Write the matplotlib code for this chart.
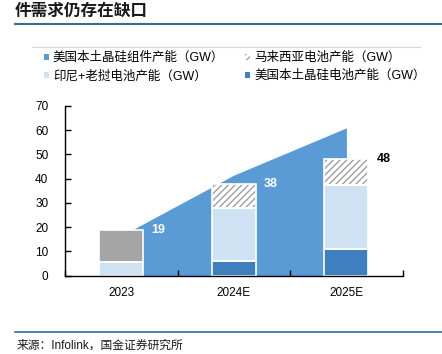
import matplotlib
matplotlib.use("Agg")
import matplotlib.pyplot as plt
from matplotlib.patches import Patch
from matplotlib.lines import Line2D

plt.rcParams['font.family'] = ['Liberation Sans', 'Noto Sans CJK SC', 'DejaVu Sans']
plt.rcParams['hatch.linewidth'] = 1.0

# Données
annees = ["2023", "2024E", "2025E"]
modules_us = [16.5, 41.5, 61]          # aire : capacité modules US
cellules_us = [0, 6, 11]
cellules_asean = [5.5, 22, 26.5]       # Indonésie + Laos
cellules_malaisie = [13.5, 10, 10.5]
totaux = [19, 38, 48]
couleurs_totaux = ["white", "white", "black"]

noms_series = ["美国本土晶硅组件产能（GW）", "印尼+老挝电池产能（GW）",
               "马来西亚电池产能（GW）", "美国本土晶硅电池产能（GW）"]

c_aire = "#5B9BD5"
c_us = "#3F7EBF"
c_asean = "#CFE2F3"
c_gris = "#A5A5A5"
c_hachure = "#A0A0A0"

W, H = 442, 354
fig = plt.figure(figsize=(W / 100, H / 100), dpi=100)
ax = fig.add_axes([65 / W, 1 - 275.7 / H, (402.7 - 65) / W, (275.7 - 106) / H])

x = list(range(len(annees)))
ax.fill_between(x, 0, modules_us, color=c_aire, linewidth=0, zorder=1)

largeur = 0.39
bas2 = [a + b for a, b in zip(cellules_us, cellules_asean)]
ax.bar(x, cellules_us, largeur, color=c_us, linewidth=0, zorder=2)
ax.bar(x, cellules_asean, largeur, bottom=cellules_us, color=c_asean, linewidth=0, zorder=2)
barres_mal = ax.bar(x, cellules_malaisie, largeur, bottom=bas2, facecolor="white",
                    edgecolor=c_hachure, linewidth=0, hatch="/////", zorder=2)
# 2023 : segment gris plein
barres_mal[0].set_hatch(None)
barres_mal[0].set_facecolor(c_gris)

# contours blancs
for bas, h in [([0] * 3, cellules_us), (cellules_us, cellules_asean), (bas2, cellules_malaisie)]:
    for i in x:
        if h[i] > 0:
            ax.bar(i, h[i], largeur, bottom=bas[i], fill=False, edgecolor="white",
                   linewidth=1.2, zorder=3)

for i in x:
    ax.text(i + 0.27, totaux[i], str(totaux[i]), color=couleurs_totaux[i], fontsize=9,
            fontweight="bold", ha="left", va="center", zorder=4)

ax.set_xlim(-0.5, 2.5)
ax.set_ylim(0, 70)
ax.set_yticks(range(0, 71, 10))
ax.set_xticks(x)
ax.set_xticklabels(annees)
ax.set_xticks([-0.5, 0.5, 1.5, 2.5], minor=True)
ax.tick_params(axis="x", which="major", length=0, labelsize=8.5, pad=8)
ax.tick_params(axis="x", which="minor", direction="in", length=4, width=1)
ax.tick_params(axis="y", direction="in", length=4, width=1, labelsize=8.5, pad=12)
for s in ["top", "right"]:
    ax.spines[s].set_visible(False)
for s in ["left", "bottom"]:
    ax.spines[s].set_linewidth(1.0)
    ax.spines[s].set_zorder(5)

# Légende
poignees = [Patch(facecolor=c_aire), Patch(facecolor=c_asean),
            Patch(facecolor="white", edgecolor=c_hachure, hatch="/////", linewidth=0),
            Patch(facecolor=c_us)]
fig.legend(poignees, noms_series, ncol=2, loc="upper left",
           bbox_to_anchor=(44 / W, 1 - 52 / H), frameon=False, borderaxespad=0,
           borderpad=0, handlelength=0.4, handleheight=0.4, handletextpad=0.3,
           columnspacing=1.7, labelspacing=0.45, fontsize=9)

# Titre, lignes et source
fig.text(15 / W, 1 - 11 / H, "件需求仍存在缺口", fontsize=12, fontweight="bold",
         ha="left", va="center", color="#1A1A1A")
fig.add_artist(Line2D([15 / W, 1], [1 - 24 / H] * 2, color="#3B6C8E", linewidth=1.5))
fig.add_artist(Line2D([32 / W, 420 / W], [1 - 46.7 / H] * 2, color="#D9D9D9", linewidth=0.8))
fig.add_artist(Line2D([15 / W, 1], [1 - 332.3 / H] * 2, color="#2E6E9E", linewidth=1.2))
fig.text(17 / W, 1 - 346 / H, "来源：Infolink，国金证券研究所", fontsize=8.5,
         ha="left", va="center", color="#1A1A1A")

fig.savefig("out.png", dpi=100)
